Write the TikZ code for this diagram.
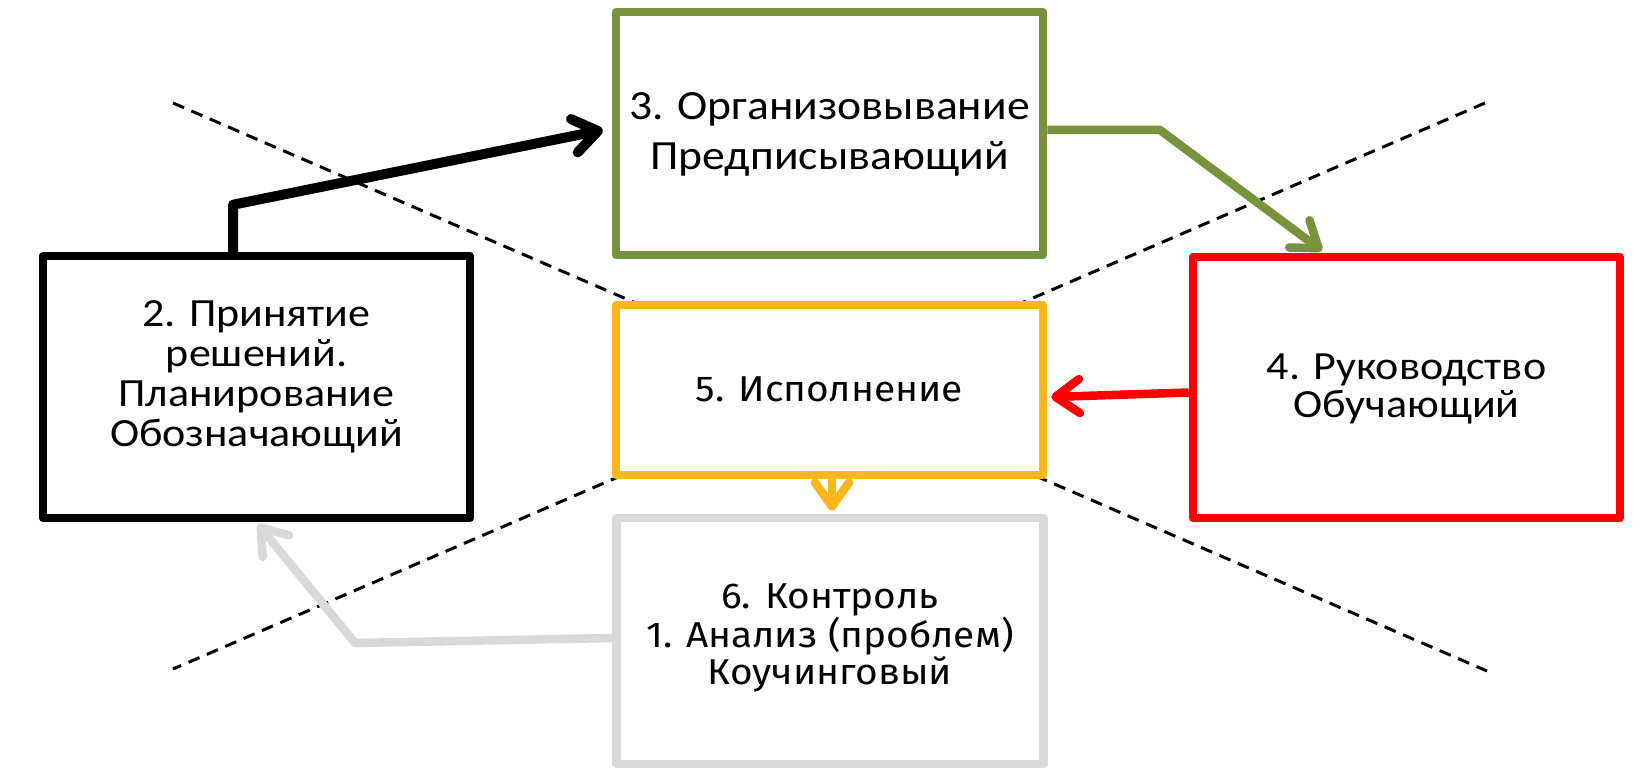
\documentclass[tikz,border=0pt]{standalone}
\usepackage{fontspec}
\setmainfont{Carlito}
\newfontfamily\calwide[FakeStretch=1.1]{Carlito}
\newfontfamily\dinfont[FakeStretch=1.08]{Fira Sans}
\usetikzlibrary{arrows.meta,calc}
\definecolor{olivegreen}{RGB}{119,147,60}
\definecolor{goldorange}{RGB}{255,181,28}
\definecolor{pureRed}{RGB}{255,0,0}
\definecolor{lightgrey}{RGB}{217,217,217}
\tikzset{
  boxshape/.style={draw, fill=white, line width=8.5pt, line join=round, inner sep=0pt, minimum width=427pt},
  divider/.style={draw=black, line width=3pt, dash pattern=on 12pt off 8pt},
  conn/.style={line width=8.5pt, line join=round, -{Straight Barb[length=24pt,width=34pt,round]}},
  labeltext/.style={align=center, inner sep=0pt, text=black},
}
\begin{document}
\begin{tikzpicture}[x=1pt,y=-1pt]
\useasboundingbox (0,0) rectangle (1650,781);
\fill[white] (0,0) rectangle (1650,781);
% dividers
\coordinate (d1a) at (173,103);
\coordinate (d1b) at (1487,671);
\coordinate (d2a) at (1485,103);
\coordinate (d2b) at (173,669);
\draw[divider] (d1a) -- (d1b);
\draw[divider] (d2a) -- (d2b);
% boxes
\node[boxshape, draw=black, minimum height=262pt] (b2) at (256.5,387) {};
\node[boxshape, draw=olivegreen, minimum height=243pt] (b3) at (829.5,133.5) {};
\node[boxshape, draw=pureRed, minimum height=261pt] (b4) at (1406.5,387.5) {};
\node[boxshape, draw=goldorange, minimum height=170pt] (b5) at (829.5,390) {};
\node[boxshape, draw=lightgrey, minimum height=246pt] (b6) at (830,641) {};
% texts
\node[labeltext, font=\calwide\fontsize{40}{40}\selectfont] (t2) at (256.5,377) {2. Принятие\\решений.\\Планирование\\Обозначающий};
\node[labeltext, font=\calwide\fontsize{41.5}{50}\selectfont] (t3) at (829.5,134) {3. Организовывание\\Предписывающий};
\node[labeltext, font=\calwide\fontsize{40}{38}\selectfont] (t4) at (1406.5,389) {4. Руководство\\Обучающий};
\node[labeltext, font=\dinfont\fontsize{36}{37}\selectfont] (t5) at (829.5,389) {5. Исполнение};
\node[labeltext, font=\dinfont\fontsize{36}{37}\selectfont] (t6) at (830,638) {6. Контроль\\1. Анализ (проблем)\\Коучинговый};
% connectors
\coordinate (bx) at (233,0);
\coordinate (gx) at (1160,0);
\coordinate (gt) at (1322,0);
\coordinate (ox) at (832,0);
\coordinate (gy) at (355,643);
\draw[conn, draw=black, line width=10pt] (b2.north -| bx) -- ++(0,-47) -- ($(b3.west)+(-9,-3.5)$);
\draw[conn, draw=olivegreen] ($(b3.east)+(0,-3.5)$) -- ($(b3.east -| gx)+(0,-3.5)$) -- ($(b4.north -| gt)+(0,-2)$);
\draw[conn, draw=pureRed] ($(b4.west)+(0,5)$) -- ($(b5.east)+(4,7)$);
\draw[conn, draw=goldorange] (b5.south -| ox) -- ($(b6.north -| ox)+(0,-3)$);
\draw[conn, draw=lightgrey] ($(b6.west)+(0,-3)$) -- (gy) -- ($(b2.south)+(1.5,2)$);
\end{tikzpicture}
\end{document}
